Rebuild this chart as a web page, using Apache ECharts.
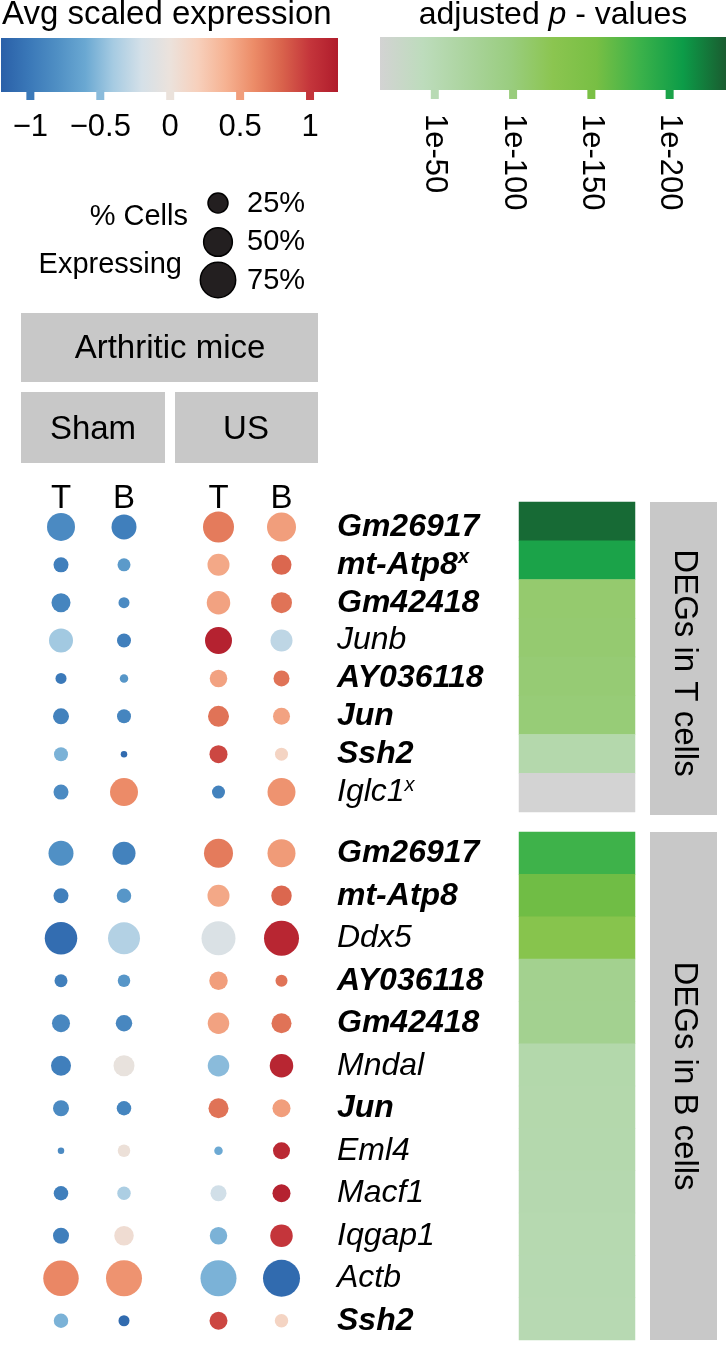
<!DOCTYPE html>
<html><head><meta charset="utf-8">
<script src="https://cdn.jsdelivr.net/npm/echarts@6/dist/echarts.min.js"></script>
<style>html,body{margin:0;padding:0;background:#fff}#c{width:727px;height:1350px}</style>
</head><body><div id="c"></div>
<script>
// ---------- data ----------
const colLabels = ['T', 'B', 'T', 'B'];
const colPos = [1, 2, 3.5, 4.5];

const tGenes = ['Gm26917', 'mt-Atp8', 'Gm42418', 'Junb', 'AY036118', 'Jun', 'Ssh2', 'Iglc1'];
const tBold  = [1, 1, 1, 0, 1, 1, 1, 0];
const tSup   = [0, 1, 0, 0, 0, 0, 0, 1];
// % cells expressing: Sham T, Sham B, US T, US B
const tPct = [
  [44.4, 35.4, 54.5, 47.7],
  [12.8, 9.6, 27.4, 22.7],
  [20.5, 6.9, 31.3, 25.0],
  [32.7, 11.1, 41.3, 27.4],
  [6.9, 4.1, 17.4, 14.5],
  [14.5, 11.1, 25.0, 16.4],
  [11.1, 2.4, 18.4, 9.6],
  [12.8, 44.4, 9.6, 44.4]
];
// avg scaled expression
const tExpr = [
  [-0.85, -0.95, 0.68, 0.50],
  [-0.95, -0.72, 0.45, 0.78],
  [-0.90, -0.85, 0.48, 0.72],
  [-0.42, -0.95, 1.15, -0.30],
  [-1.00, -0.75, 0.48, 0.72],
  [-0.92, -0.90, 0.72, 0.48],
  [-0.55, -1.12, 0.92, 0.15],
  [-0.85, 0.60, -0.92, 0.56]
];
// -log10(adjusted p)
const tPadj = [230, 200, 108, 107, 105, 103, 57, 15];

const bGenes = ['Gm26917', 'mt-Atp8', 'Ddx5', 'AY036118', 'Gm42418', 'Mndal', 'Jun', 'Eml4', 'Macf1', 'Iqgap1', 'Actb', 'Ssh2'];
const bBold  = [1, 1, 0, 1, 1, 0, 1, 0, 0, 0, 0, 1];
const bSup   = [0, 0, 0, 0, 0, 0, 0, 0, 0, 0, 0, 0];
const bPct = [
  [35.4, 30.0, 47.7, 44.4],
  [12.8, 11.9, 27.4, 23.8],
  [59.9, 58.0, 65.5, 69.4],
  [9.6, 8.9, 19.4, 8.2],
  [18.4, 15.4, 26.2, 22.7],
  [22.7, 25.0, 26.2, 31.3],
  [14.5, 11.9, 22.7, 18.4],
  [2.4, 8.9, 4.1, 16.4],
  [11.9, 10.3, 14.5, 18.4],
  [14.5, 21.6, 17.4, 28.7],
  [71.4, 73.5, 73.5, 77.6],
  [11.9, 6.9, 18.4, 10.3]
];
const bExpr = [
  [-0.80, -0.92, 0.68, 0.52],
  [-0.95, -0.75, 0.45, 0.78],
  [-1.10, -0.35, -0.15, 1.12],
  [-0.95, -0.75, 0.50, 0.72],
  [-0.88, -0.88, 0.48, 0.72],
  [-0.95, -0.03, -0.50, 1.12],
  [-0.85, -0.90, 0.72, 0.50],
  [-0.85, 0.02, -0.60, 1.10],
  [-0.95, -0.38, -0.22, 1.15],
  [-0.95, 0.06, -0.55, 1.00],
  [0.62, 0.56, -0.55, -1.12],
  [-0.55, -1.12, 0.92, 0.15]
];
const bPadj = [180, 157, 132, 84, 83, 58, 57, 56, 55, 54, 53, 52];

const exprTicks = [-1, -0.5, 0, 0.5, 1];
const padjTicks = [50, 100, 150, 200];
const sizeLegend = [25, 50, 75];

// ---------- styles ----------
const FONT = '"Liberation Sans", Arial, Helvetica, sans-serif';
const EXPR_MIN = -1.21, EXPR_MAX = 1.2, P_MIN = 15, P_MAX = 236;
const exprColors = ['#2a60a8', '#3a78b8', '#4f8fc4', '#6aa8d2', '#a6cbe2', '#d4e0e8', '#ebe2dc',
  '#f7d0bc', '#f6b292', '#ec8c68', '#d9634c', '#c4353b', '#b01c2c'];
const padjColors = ['#d3d3d3', '#bddcbc', '#abd49e', '#9acd80', '#8bc550', '#78bf44', '#3cb24a', '#0c9c48', '#1a5c30'];
const STRIP = '#c8c8c8';
function sizeFn(p) { return 4.2 * Math.sqrt(p); }
function grad(colors) {
  return { type: 'linear', x: 0, y: 0, x2: 1, y2: 0,
    colorStops: colors.map((c, i) => ({ offset: i / (colors.length - 1), color: c })) };
}
function dotData(pct, expr) {
  const out = [];
  pct.forEach((row, r) => row.forEach((p, c) => out.push([colPos[c], r, p, expr[r][c]])));
  return out;
}
function geneFmt(bold, sup) {
  return function (v, i) {
    const k = bold[i] ? 'b' : 'i';
    return '{' + k + '|' + v + '}' + (sup[i] ? '{' + k + 's|x}' : '');
  };
}
const geneRich = {
  b: { fontFamily: FONT, fontSize: 32, fontWeight: 'bold', fontStyle: 'italic', color: '#000', lineHeight: 34 },
  i: { fontFamily: FONT, fontSize: 32, fontStyle: 'italic', color: '#000', lineHeight: 34 },
  bs: { fontFamily: FONT, fontSize: 20, fontWeight: 'bold', fontStyle: 'italic', color: '#000', verticalAlign: 'top', lineHeight: 34 },
  is: { fontFamily: FONT, fontSize: 20, fontStyle: 'italic', color: '#000', verticalAlign: 'top', lineHeight: 34 }
};
const off = { show: false };

const chart = echarts.init(document.getElementById('c'), null, { renderer: 'canvas' });

const option = {
  animation: false,
  backgroundColor: '#fff',
  textStyle: { fontFamily: FONT },
  grid: [
    { left: 1, top: 38, width: 337, height: 54, show: true, borderWidth: 0, backgroundColor: grad(exprColors) },
    { left: 380, top: 37, width: 346, height: 53, show: true, borderWidth: 0, backgroundColor: grad(padjColors) },
    { left: 29.5, top: 508, width: 283.5, height: 303 },
    { left: 29.5, top: 832, width: 283.5, height: 510 },
    { left: 519, top: 502, width: 116, height: 310 },
    { left: 519, top: 832, width: 116, height: 508 }
  ],
  xAxis: [
    { gridIndex: 0, type: 'value', min: EXPR_MIN, max: EXPR_MAX, axisLine: off, axisTick: off, splitLine: off,
      axisLabel: { customValues: exprTicks, margin: 20, fontSize: 31, color: '#000', fontFamily: FONT,
        formatter: v => (v < 0 ? '\u2212' : '') + Math.abs(v) } },
    { gridIndex: 1, type: 'value', min: P_MIN, max: P_MAX, axisLine: off, axisTick: off, splitLine: off,
      axisLabel: { customValues: padjTicks, margin: 24, fontSize: 31, color: '#000', rotate: -90, fontFamily: FONT,
        formatter: v => '1e-' + v } },
    { gridIndex: 2, type: 'value', min: 0.5, max: 5, position: 'top', axisLine: off, axisTick: off, splitLine: off,
      axisLabel: { customValues: colPos, margin: -7, fontSize: 33, color: '#000', fontFamily: FONT,
        formatter: v => colLabels[colPos.indexOf(v)] } },
    { gridIndex: 3, type: 'value', min: 0.5, max: 5, show: false, splitLine: off },
    { gridIndex: 4, type: 'category', data: ['p'], show: false },
    { gridIndex: 5, type: 'category', data: ['p'], show: false }
  ],
  yAxis: [
    { gridIndex: 0, type: 'value', min: 0, max: 1, show: false },
    { gridIndex: 1, type: 'value', min: 0, max: 1, show: false },
    { gridIndex: 2, type: 'category', data: tGenes, inverse: true, position: 'right', axisLine: off, axisTick: off,
      axisLabel: { margin: 24, formatter: geneFmt(tBold, tSup), rich: geneRich } },
    { gridIndex: 3, type: 'category', data: bGenes, inverse: true, position: 'right', axisLine: off, axisTick: off,
      axisLabel: { margin: 24, formatter: geneFmt(bBold, bSup), rich: geneRich } },
    { gridIndex: 4, type: 'category', data: tGenes, inverse: true, show: false },
    { gridIndex: 5, type: 'category', data: bGenes, inverse: true, show: false }
  ],
  visualMap: [
    { show: false, type: 'continuous', min: EXPR_MIN, max: EXPR_MAX, dimension: 3, seriesIndex: [0, 2, 3],
      inRange: { color: exprColors } },
    { show: false, type: 'continuous', min: P_MIN, max: P_MAX, dimension: 2, seriesIndex: [1, 4, 5],
      inRange: { color: padjColors } }
  ],
  series: [
    { type: 'scatter', xAxisIndex: 0, yAxisIndex: 0, clip: false, symbol: 'rect', symbolSize: [8, 10],
      itemStyle: { opacity: 1 }, data: exprTicks.map(v => [v, -0.056, 0, v]), silent: true },
    { type: 'scatter', xAxisIndex: 1, yAxisIndex: 1, clip: false, symbol: 'rect', symbolSize: [8, 10],
      itemStyle: { opacity: 1 }, data: padjTicks.map(v => [v, -0.075, v]), silent: true },
    { type: 'scatter', xAxisIndex: 2, yAxisIndex: 2, itemStyle: { opacity: 1 },
      data: dotData(tPct, tExpr), symbolSize: d => sizeFn(d[2]) },
    { type: 'scatter', xAxisIndex: 3, yAxisIndex: 3, itemStyle: { opacity: 1 },
      data: dotData(bPct, bExpr), symbolSize: d => sizeFn(d[2]) },
    { type: 'heatmap', xAxisIndex: 4, yAxisIndex: 4, data: tPadj.map((v, r) => [0, r, v]) },
    { type: 'heatmap', xAxisIndex: 5, yAxisIndex: 5, data: bPadj.map((v, r) => [0, r, v]) }
  ],
  graphic: [
    { type: 'text', x: 2, y: 15, style: { text: 'Avg scaled expression', font: '33px ' + FONT, fill: '#000', verticalAlign: 'middle' } },
    { type: 'text', x: 553, y: 15, style: { text: 'adjusted {i|p} - values', fontFamily: FONT, fontSize: 32, fill: '#000',
        align: 'center', verticalAlign: 'middle', rich: { i: { fontFamily: FONT, fontSize: 32, fontStyle: 'italic' } } } },
    { type: 'text', x: 188, y: 217, style: { text: '% Cells', font: '29px ' + FONT, fill: '#000', align: 'right', verticalAlign: 'middle' } },
    { type: 'text', x: 182, y: 265, style: { text: 'Expressing', font: '29px ' + FONT, fill: '#000', align: 'right', verticalAlign: 'middle' } }
  ].concat(sizeLegend.map((p, i) => ({
    type: 'circle', shape: { cx: 218, cy: [203, 242, 280][i], r: sizeFn(p) / 2 - 0.5 },
    style: { fill: '#231f20', stroke: '#000', lineWidth: 1.5 }
  }))).concat(sizeLegend.map((p, i) => ({
    type: 'text', x: 247, y: [204, 242, 281][i], style: { text: p + '%', font: '29px ' + FONT, fill: '#000', verticalAlign: 'middle' }
  }))).concat([
    { type: 'rect', shape: { x: 21, y: 313, width: 297, height: 69 }, style: { fill: STRIP } },
    { type: 'text', x: 170, y: 349, style: { text: 'Arthritic mice', font: '33px ' + FONT, fill: '#000', align: 'center', verticalAlign: 'middle' } },
    { type: 'rect', shape: { x: 21, y: 392, width: 144, height: 71 }, style: { fill: STRIP } },
    { type: 'text', x: 93, y: 430, style: { text: 'Sham', font: '33px ' + FONT, fill: '#000', align: 'center', verticalAlign: 'middle' } },
    { type: 'rect', shape: { x: 175, y: 392, width: 143, height: 71 }, style: { fill: STRIP } },
    { type: 'text', x: 246, y: 430, style: { text: 'US', font: '33px ' + FONT, fill: '#000', align: 'center', verticalAlign: 'middle' } },
    { type: 'rect', shape: { x: 650, y: 502, width: 67, height: 313 }, style: { fill: STRIP } },
    { type: 'text', x: 684, y: 663, rotation: -Math.PI / 2, style: { text: 'DEGs in T cells', font: '33px ' + FONT, fill: '#000', align: 'center', verticalAlign: 'middle' } },
    { type: 'rect', shape: { x: 650, y: 832, width: 67, height: 508 }, style: { fill: STRIP } },
    { type: 'text', x: 684, y: 1076, rotation: -Math.PI / 2, style: { text: 'DEGs in B cells', font: '33px ' + FONT, fill: '#000', align: 'center', verticalAlign: 'middle' } }
  ])
};
chart.setOption(option);
</script>
</body></html>
